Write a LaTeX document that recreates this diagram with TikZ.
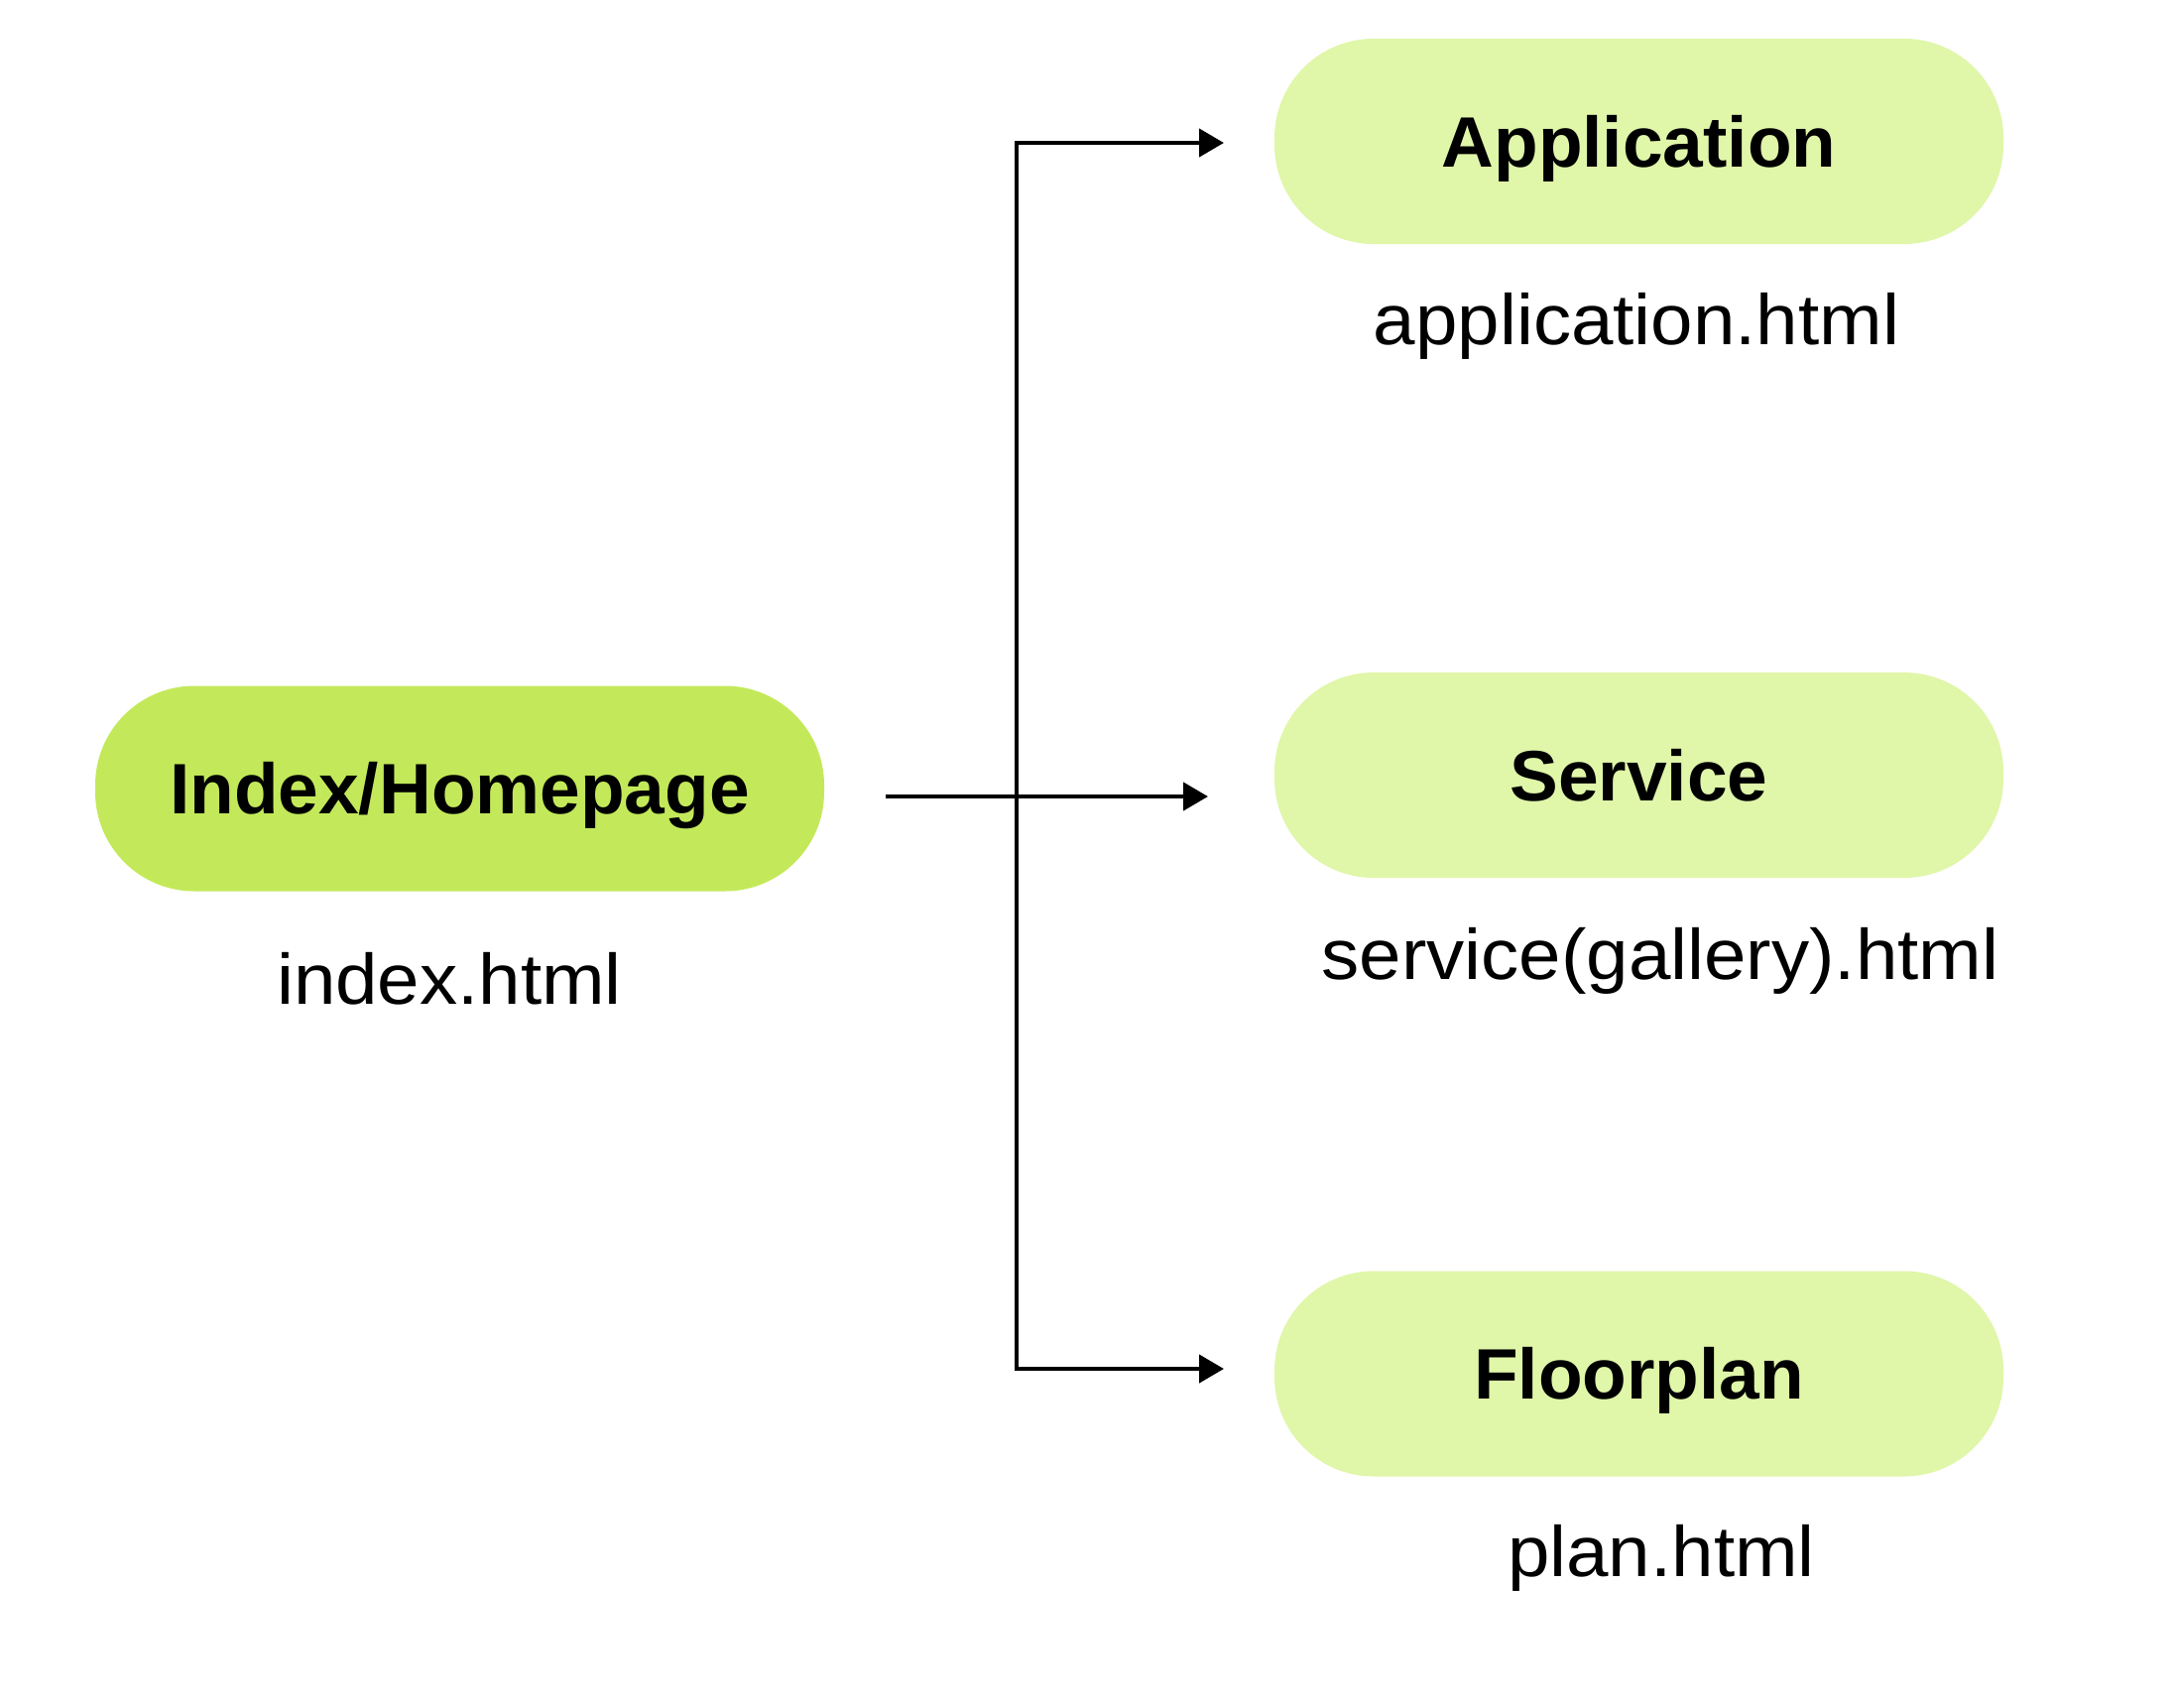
\documentclass[tikz,border=0pt]{standalone}
\usepackage{fontspec}
\setmainfont{Liberation Sans}[BoldFeatures={FakeStretch=1.015}]
\newfontfamily\labelfont{Liberation Sans}[FakeStretch=1.06]
\usetikzlibrary{arrows.meta}
\definecolor{limeA}{HTML}{C3E95A}
\definecolor{limeB}{HTML}{E0F6A9}
\tikzset{
  pagebox/.style={rounded corners=50pt, minimum width=367.5pt, minimum height=103.5pt,
    inner sep=0pt, text height=25.8pt, text depth=0pt,
    font=\fontsize{36pt}{40pt}\selectfont\bfseries},
  mainbox/.style={pagebox, fill=limeA},
  subbox/.style={pagebox, fill=limeB},
  filelabel/.style={anchor=base, inner sep=0pt, font=\labelfont\fontsize{36pt}{40pt}\selectfont},
  link/.style={line width=2.2pt, -{Triangle[length=12.5pt,width=14pt]}},
  dlink/.style={line width=2.2pt, {Triangle[length=12.5pt,width=14pt]}-{Triangle[length=12.5pt,width=14pt]}},
}
\begin{document}
\begin{tikzpicture}[x=0.5pt,y=-0.5pt]
\useasboundingbox (0,0) rectangle (2194,1721);
% boxes
\node[mainbox] (idx) at (463.5,795) {Index/Homepage};
\node[subbox] (app) at (1652.5,142.5) {Application};
\node[subbox] (srv) at (1652.5,781.5) {Service};
\node[subbox] (flr) at (1652.5,1385) {Floorplan};
% file labels
\node[filelabel] (lidx) at (453,1012) {index.html};
\node[filelabel] (lapp) at (1650,347) {application.html};
\node[filelabel] (lsrv) at (1674,987) {service(gallery).html};
\node[filelabel] (lflr) at (1675,1589) {plan.html};
% connector points
\coordinate (start) at (893,803);
\coordinate (tipm) at (1218,803);
\coordinate (jtop) at (1025,144);
\coordinate (jbot) at (1025,1380);
\coordinate (tipa) at (1234,144);
\coordinate (tipf) at (1234,1380);
% connectors
\draw[link] (start) -- (tipm);
\draw[dlink] (tipa) -- (jtop) -- (jbot) -- (tipf);
\end{tikzpicture}
\end{document}
